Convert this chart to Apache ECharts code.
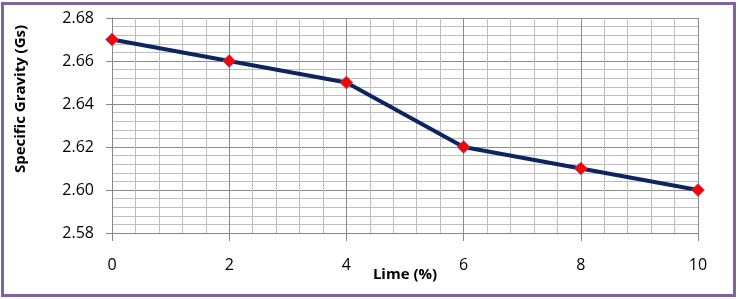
<!DOCTYPE html>
<html>
<head>
<meta charset="utf-8">
<script src="https://cdn.jsdelivr.net/npm/echarts@6/dist/echarts.min.js"></script>
<style>
  html, body { margin: 0; padding: 0; background: #fff; }
  #chart { width: 738px; height: 299px; }
</style>
</head>
<body>
<div id="chart"></div>
<script>
// data
const limePct = [0, 2, 4, 6, 8, 10];
const specificGravity = [2.67, 2.66, 2.65, 2.62, 2.61, 2.60];

const chart = echarts.init(document.getElementById('chart'));
const labelFont = 'Open Sans, Liberation Sans, sans-serif';

chart.setOption({
    animation: false,
    grid: { left: 112, right: 40, top: 18, bottom: 66 },
    graphic: [
        {
            type: 'rect',
            shape: { x: 2.5, y: 3.5, width: 732, height: 292 },
            style: { fill: 'none', stroke: '#8064a2', lineWidth: 3 }
        },
        {
            type: 'text',
            x: 21, y: 99,
            rotation: Math.PI / 2,
            style: {
                text: 'Specific Gravity (Gs)',
                font: 'bold 15px ' + labelFont,
                fill: '#000',
                textAlign: 'center',
                textVerticalAlign: 'middle'
            }
        }
    ],
    xAxis: {
        type: 'value',
        min: 0, max: 10, interval: 2,
        name: 'Lime (%)',
        nameLocation: 'middle',
        nameGap: 34,
        nameMoveOverlap: false,
        nameTextStyle: { fontFamily: labelFont, fontWeight: 'bold', fontSize: 15, color: '#000' },
        axisLine: { show: true, lineStyle: { color: '#868686', width: 1 } },
        axisTick: { show: true, length: 8, lineStyle: { color: '#868686' } },
        axisLabel: { fontFamily: labelFont, fontSize: 16, color: '#000', margin: 24 },
        splitLine: { show: true, lineStyle: { color: '#8c8c8c', width: 1 } },
        minorTick: { show: false, splitNumber: 5 },
        minorSplitLine: { show: true, lineStyle: { color: '#bdbdbd', width: 1 } }
    },
    yAxis: {
        type: 'value',
        min: 2.58, max: 2.68, interval: 0.02,
        axisLine: { show: true, lineStyle: { color: '#868686', width: 1 } },
        axisTick: { show: true, length: 6, lineStyle: { color: '#868686' } },
        axisLabel: {
            fontFamily: labelFont, fontSize: 16, color: '#000', margin: 18,
            formatter: v => v.toFixed(2)
        },
        splitLine: { show: true, lineStyle: { color: '#8c8c8c', width: 1 } },
        minorTick: { show: false, splitNumber: 5 },
        minorSplitLine: { show: true, lineStyle: { color: '#bdbdbd', width: 1 } }
    },
    series: [
        {
            type: 'line',
            data: limePct.map((x, i) => [x, specificGravity[i]]),
            lineStyle: { color: '#0c2462', width: 4 },
            symbol: 'diamond',
            symbolSize: 13,
            itemStyle: { color: '#ff0000', borderColor: '#4f6fbf', borderWidth: 0.6 },
            z: 5
        }
    ]
});
</script>
</body>
</html>
